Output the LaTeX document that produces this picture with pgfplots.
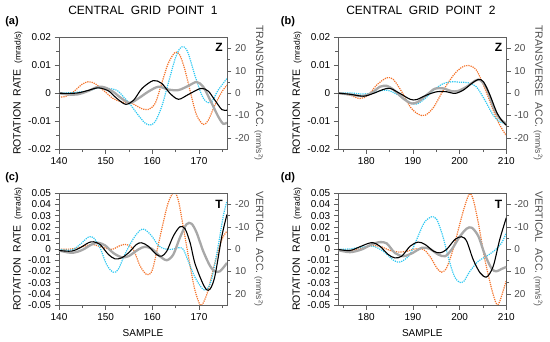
\documentclass[border=0pt]{standalone}
\usepackage{pgfplots}
\pgfplotsset{compat=1.18}
\usepackage{fontspec}
\setmainfont{Liberation Sans}
\definecolor{cOr}{RGB}{244,114,40}
\definecolor{cCy}{RGB}{45,200,242}
\definecolor{cGr}{RGB}{168,168,168}
\definecolor{cAx}{RGB}{95,95,95}
\newcommand{\tk}{\fontsize{10}{12}\selectfont}
\pgfplotsset{
 base/.style={scale only axis, width=168pt, height=111.7pt, anchor=south west,
   tick align=outside, major tick length=4.5pt, minor tick length=3pt,
   every tick/.style={cAx, line width=0.6pt},
   axis line style={-, cAx, line width=0.7pt},
   tick label style={font=\tk}, scaled ticks=false},
 leftax/.style={base, xtick pos=left, ytick pos=left,
   ylabel style={at={(axis description cs:-0.245,0.5)}, anchor=center, font=\fontsize{10.5}{11}\selectfont}},
 rightax/.style={base, axis x line=none, axis y line*=right, ytick pos=right, tick align=outside,
   ymin=-25, ymax=25, ytick={-20,-10,0,10,20}, minor ytick={-15,-5,5,15},
   yticklabels={-20,-10,0,10,20}, yticklabel style={text=cAx!80!black},
   ylabel style={at={(axis description cs:1.19,0.5)}, anchor=center, rotate=180, font=\fontsize{10.5}{11}\selectfont, text=cAx!80!black}},
 rightaxr/.style={rightax, y dir=reverse},
 xa/.style={xmin=140, xmax=176, xtick={140,150,160,170}, minor xtick={145,155,165,175}, xticklabels={140,150,160,170}},
 xb/.style={xmin=174, xmax=210, xtick={180,190,200,210}, minor xtick={175,185,195,205}, xticklabels={180,190,200,210}},
 yz/.style={ymin=-0.02, ymax=0.02, ytick={-0.02,-0.01,0,0.01,0.02}, minor ytick={-0.015,-0.005,0.005,0.015},
   yticklabels={-0.02,-0.01,0,0.01,0.02}},
 yt/.style={ymin=-0.05, ymax=0.05, ytick={-0.05,-0.04,-0.03,-0.02,-0.01,0,0.01,0.02,0.03,0.04,0.05},
   minor ytick={-0.045,-0.035,-0.025,-0.015,-0.005,0.005,0.015,0.025,0.035,0.045},
   yticklabels={-0.05,-0.04,-0.03,-0.02,-0.01,0,0.01,0.02,0.03,0.04,0.05}},
 orS/.style={cOr, densely dotted, line width=1.2pt, smooth, no markers},
 cyS/.style={cCy, densely dotted, line width=1.2pt, smooth, no markers},
 grS/.style={cGr, line width=2.3pt, smooth, no markers},
 bkS/.style={black, line width=1.1pt, smooth, no markers},
}
\newcommand{\rlab}{ROTATION\ \ RATE\ \ {\fontsize{8.5}{9}\selectfont(mrad/s)}}
\newcommand{\tlab}{TRANSVERSE\ \ ACC.\ {\fontsize{8.5}{9}\selectfont(mm/s\textsuperscript{2})}}
\newcommand{\vlab}{VERTICAL\ \ ACC.\ {\fontsize{8.5}{9}\selectfont(mm/s\textsuperscript{2})}}
\begin{document}
\begin{tikzpicture}
\useasboundingbox (0pt,0pt) rectangle (550pt,341pt);
% ---------------- panel (a)
\begin{axis}[rightax, xa, xticklabels={}, at={(59pt,192pt)}, ylabel={\tlab}]
\addplot[orS] coordinates {(140,-1.6)(141.3,-1.6)(143.1,0.6)(144.9,3.9)(146.3,5.1)(147.7,4.3)(149.9,0.6)(151.6,-2.4)(153.4,-3.9)(155.6,-4.6)(157.7,-6.9)(159.1,-7.3)(160.6,-4.6)(162,4.3)(163.4,13.3)(164.9,18.3)(165.9,17.0)(167,10.3)(168.4,-1.6)(169.5,-9.9)(170.9,-14.0)(172,-12.1)(173.4,-5.4)(174.9,0.6)(176,3.6)};
\addplot[cyS] coordinates {(140,0)(143.4,0.3)(146.3,1.0)(148.4,2.4)(150.6,2.1)(152.4,1.3)(153.8,-1.6)(155.2,-4.9)(157,-9.9)(158.4,-13.3)(159.5,-14.3)(160.6,-12.8)(162,-6.1)(163.4,4.3)(164.9,15.5)(165.9,20)(166.8,20.7)(167.7,17.8)(169.1,8.1)(170.6,-0.9)(171.6,-3.9)(172.7,-3.9)(174.1,1.3)(176,6.6)};
\end{axis}
\begin{axis}[leftax, xa, yz, at={(59pt,192pt)}, ylabel={\rlab}]
\addplot[grS] coordinates {(140,0)(142,-0.0005)(144.1,-0.0004)(146.3,0.0008)(148.4,0.0023)(149.9,0.0020)(151.6,0.0005)(153.4,-0.0019)(155.2,-0.0035)(157,-0.0019)(159.1,0.0005)(161.3,0.0023)(163.4,0.0013)(165.6,0.0011)(167.7,0.0026)(169.5,0.0040)(170.9,0.0023)(172.4,-0.0025)(174.1,-0.0083)(175.2,-0.0110)(176,-0.0105)};
\addplot[bkS] coordinates {(140,0)(142,-0.0001)(144.1,0.0001)(146.3,0.001)(148.4,0.0019)(150.6,0.0008)(152.4,-0.0019)(154.3,-0.0040)(156,-0.0025)(157.8,0.0017)(160.2,0.0045)(162,0.0035)(163.8,-0.0001)(165.6,-0.0022)(167.7,-0.0005)(170.4,0.0017)(172,0.0007)(173.4,-0.0025)(174.9,-0.0059)(176,-0.0061)};
\end{axis}
% ---------------- panel (b)
\begin{axis}[rightax, xb, xticklabels={}, at={(338.3pt,192pt)}, ylabel={\tlab}]
\addplot[orS] coordinates {(174,0)(176.5,-0.9)(178.6,-2.4)(180.4,-1.0)(182.2,3.6)(184.4,6.9)(185.8,6.1)(187.6,0.6)(189.4,-6.1)(191.1,-9.4)(192.6,-9.9)(194.4,-6.4)(196.5,1.3)(198.7,8.1)(200.4,11.5)(201.9,12.4)(203.6,10.3)(205.4,2.1)(207.2,-7.6)(208.6,-14.3)(210,-19)};
\addplot[cyS] coordinates {(174,0)(176.5,0.1)(179.4,-0.4)(181.5,0.2)(183.6,1.3)(185.1,1.0)(187.2,-1.3)(189.4,-4.3)(190.8,-4.9)(192.6,-2.4)(194.4,1.3)(196.5,4.3)(198.3,5.1)(200.1,4.9)(201.9,4.6)(203.6,2.8)(205.4,-3.1)(207.2,-9.9)(208.6,-12.8)(210,-13.6)};
\end{axis}
\begin{axis}[leftax, xb, yz, at={(338.3pt,192pt)}, ylabel={\rlab}]
\addplot[grS] coordinates {(174,0)(176.5,-0.0005)(179.4,-0.0010)(181.5,0.0005)(182.9,0.0023)(184.4,0.0026)(185.8,0.0013)(187.9,-0.0019)(189.7,-0.0037)(191.1,-0.0031)(192.9,-0.0007)(194.7,0.0016)(196.5,0.0017)(198.3,0.0007)(199.7,0.0008)(201.5,0.0023)(203.3,0.0044)(204.4,0.0047)(205.8,0.0017)(207.2,-0.0049)(208.6,-0.0091)(210,-0.0109)};
\addplot[bkS] coordinates {(174,0)(176.5,-0.0004)(179.4,-0.0011)(181.5,-0.0001)(183.6,0.0013)(185.1,0.0017)(187.2,-0.0001)(189.4,-0.0022)(190.8,-0.0023)(192.9,-0.0007)(195.1,0.0005)(197.2,0.0005)(199,-0.0001)(200.8,0.0011)(202.6,0.0035)(204,0.0049)(205.1,0.0041)(206.5,-0.0007)(207.9,-0.0067)(209,-0.0097)(210,-0.0115)};
\end{axis}
% ---------------- panel (c)
\begin{axis}[rightaxr, xa, xticklabels={}, at={(59pt,36pt)}, ylabel={\vlab}]
\addplot[orS] coordinates {(140,0.1)(142.7,-0.1)(144.9,-1.0)(147,-2.1)(149.1,-1.0)(151.3,0.1)(153.1,-1.6)(154.5,-2.1)(155.9,0.1)(157.4,7.6)(158.8,11.4)(159.9,9.9)(160.9,1.6)(162,-8.8)(163.4,-20.8)(164.7,-25.5)(165.6,-21.6)(166.6,-10.3)(168.1,7.6)(169.1,18.1)(170.2,24.9)(170.9,24.1)(172,18.1)(173.4,6.1)(174.9,-4.3)(176,-8.1)};
\addplot[cyS] coordinates {(140,0.1)(142.7,0.4)(144.5,-2.1)(146.3,-5.4)(147.4,-5.1)(148.8,-0.6)(150.2,6.9)(151.6,10.3)(152.7,9.1)(154.1,2.4)(155.9,-4.6)(157.4,-8.5)(158.4,-8.8)(159.9,-5.8)(161.3,-1.6)(162.7,-0.1)(164.1,0.1)(165.6,-0.6)(166.6,0)(167.7,5.4)(169.1,12.4)(170.6,17.4)(171.6,18.1)(172.7,13.6)(174.1,-1.3)(175.2,-14.8)(176,-21.6)};
\end{axis}
\begin{axis}[leftax, xa, yt, at={(59pt,36pt)}, ylabel={\rlab}, xlabel={SAMPLE},
  xlabel style={at={(axis description cs:0.5,-0.25)}, anchor=center, font=\fontsize{10}{10}\selectfont}]
\addplot[grS] coordinates {(140,-0.0012)(142.7,-0.0033)(144.9,-0.0009)(147,0.0042)(148.4,0.0057)(149.9,0.0033)(151.6,-0.0033)(153.4,-0.0072)(154.9,-0.0063)(157,-0.0003)(158.4,0.0021)(159.9,0.0003)(161.6,-0.0063)(163.1,-0.0099)(164.5,-0.0048)(165.9,0.0102)(167.3,0.0222)(168.4,0.0228)(169.5,0.0147)(170.9,-0.0018)(172.4,-0.0153)(173.4,-0.0198)(174.5,-0.0198)(176,-0.0123)};
\addplot[bkS] coordinates {(140,-0.0012)(142.7,-0.0018)(144.5,0.0012)(146.3,0.0057)(147.4,0.0066)(148.8,0.0042)(150.6,-0.0048)(152,-0.0087)(153.4,-0.0078)(154.9,-0.0033)(156.6,0.0042)(157.7,0.0057)(159.1,0.0027)(160.9,-0.0048)(162,-0.0063)(163.1,-0.0018)(164.5,0.0117)(165.9,0.0200)(167,0.0183)(168.1,0.0057)(169.1,-0.0123)(170.6,-0.0287)(171.6,-0.0362)(172.4,-0.0356)(173.4,-0.0243)(174.9,0.0117)(176,0.0310)};
\end{axis}
% ---------------- panel (d)
\begin{axis}[rightaxr, xb, xticklabels={}, at={(338.3pt,36pt)}, ylabel={\vlab}]
\addplot[orS] coordinates {(174,0.1)(176.5,0.6)(179.4,-0.6)(181.5,-1.6)(183.3,-1.0)(185.1,0.6)(186.9,1.3)(188.6,1.0)(190.4,-0.1)(192.2,0.1)(193.6,3.1)(195.1,8.4)(196.1,10.3)(197.2,8.4)(198.6,0.1)(200.1,-11.8)(201.1,-19.3)(202.1,-24.8)(202.9,-22.3)(204,-11.8)(205.4,4.6)(206.9,18.1)(207.9,24.5)(208.6,23.4)(210,14)};
\addplot[cyS] coordinates {(174,0.1)(176.5,-0.1)(179.4,-1.0)(181.5,-1.3)(183.6,0.9)(185.8,4.9)(187.2,5.8)(189.2,2.8)(190.8,-4.3)(192.4,-11.8)(194,-14.5)(195.1,-13.3)(196.4,-5.8)(197.6,3.9)(198.8,11.8)(199.9,14.8)(200.9,14.4)(202.2,9.9)(204,5.4)(205.8,3.1)(207.6,0.4)(209,-2.8)(210,-7.3)};
\end{axis}
\begin{axis}[leftax, xb, yt, at={(338.3pt,36pt)}, ylabel={\rlab}, xlabel={SAMPLE},
  xlabel style={at={(axis description cs:0.5,-0.25)}, anchor=center, font=\fontsize{10}{10}\selectfont}]
\addplot[grS] coordinates {(174,-0.0009)(176.5,-0.0027)(179,-0.0003)(181.1,0.0042)(182.9,0.0063)(184.4,0.0051)(186.1,-0.0033)(187.9,-0.0063)(189.7,-0.0039)(191.9,0.0012)(193.6,0.0003)(195.4,-0.0048)(196.9,-0.0063)(198.3,-0.0003)(200.1,0.0117)(201.5,0.0183)(202.6,0.0192)(204,0.0117)(205.4,-0.0048)(206.9,-0.0177)(207.9,-0.0198)(209,-0.0177)(210,-0.0159)};
\addplot[bkS] coordinates {(174,-0.0003)(176.5,-0.0012)(178.6,0.0021)(180.4,0.0051)(181.5,0.0057)(182.9,0.0027)(184.7,-0.0048)(186.1,-0.0078)(187.6,-0.0063)(189.4,0.0027)(191.1,0.0063)(192.6,0.0042)(194.4,-0.0018)(195.8,-0.0033)(197.2,-0.0003)(199,0.0087)(200.4,0.0111)(201.5,0.0072)(202.9,-0.0093)(204.4,-0.0213)(205.8,-0.0249)(207.2,-0.0153)(208.6,0.0087)(210,0.0281)};
\end{axis}
% ---------------- texts
\node[font=\fontsize{12}{12}\selectfont] at (143pt,331pt) {CENTRAL\ \ GRID\ \ POINT\ \ 1};
\node[font=\fontsize{12}{12}\selectfont] at (421pt,331pt) {CENTRAL\ \ GRID\ \ POINT\ \ 2};
\node[font=\bfseries\fontsize{11}{11}\selectfont] at (12pt,319pt) {(a)};
\node[font=\bfseries\fontsize{11}{11}\selectfont] at (288pt,319pt) {(b)};
\node[font=\bfseries\fontsize{11}{11}\selectfont] at (12pt,163pt) {(c)};
\node[font=\bfseries\fontsize{11}{11}\selectfont] at (288pt,163pt) {(d)};
\node[font=\bfseries\fontsize{12}{12}\selectfont] at (219pt,293.5pt) {Z};
\node[font=\bfseries\fontsize{12}{12}\selectfont] at (498.5pt,293.5pt) {Z};
\node[font=\bfseries\fontsize{12}{12}\selectfont] at (219pt,137pt) {T};
\node[font=\bfseries\fontsize{12}{12}\selectfont] at (498.5pt,137pt) {T};
\end{tikzpicture}
\end{document}
